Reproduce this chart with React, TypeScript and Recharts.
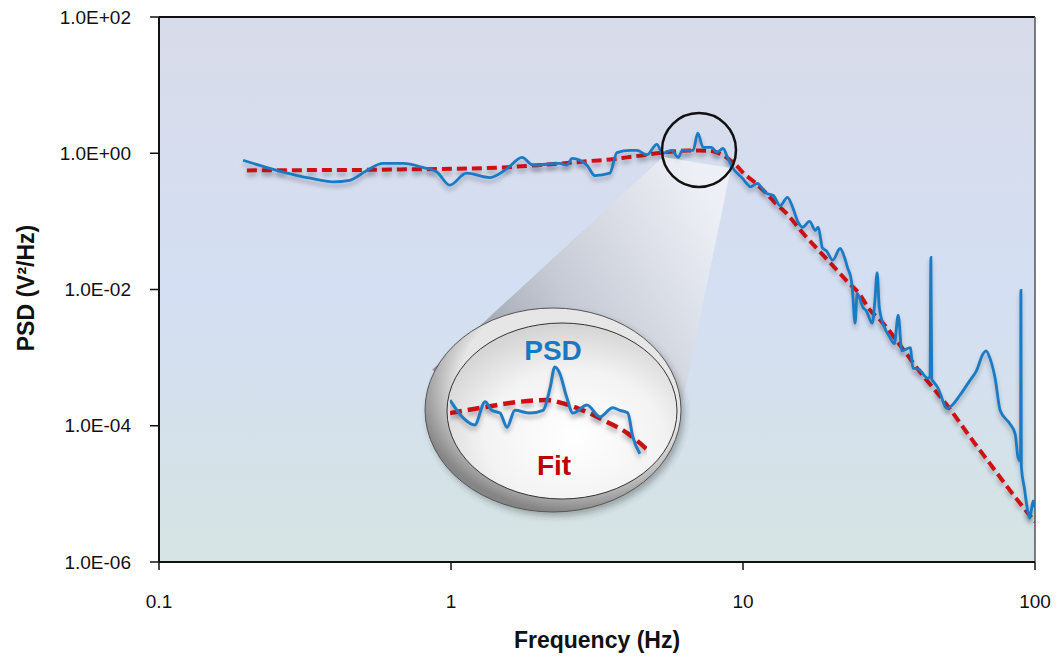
import * as React from 'react';
import { LineChart, Line, XAxis, YAxis, CartesianGrid, ReferenceLine } from 'recharts';

// measured PSD (Hz, V^2/Hz)
const psdFreq = [
  0.194, 0.266, 0.33, 0.394, 0.45, 0.515, 0.585, 0.686, 0.8, 0.895, 0.99, 1.13, 1.36, 1.56, 1.75, 1.91,
  2.36, 2.49, 2.6, 2.92, 3.11, 3.5, 3.7, 4.1, 4.33, 4.69, 5.07, 5.3, 5.7, 6.0, 6.2, 6.75, 7.0, 7.3, 7.8,
  8.15, 8.55, 8.85, 9.2, 10.0, 10.3, 10.6, 11.2, 11.6, 12.0, 12.7, 13.4, 14.2, 14.8, 15.4, 16.0, 16.9,
  17.7, 18.1, 18.7, 19.3, 20.3, 21.5, 22.3, 22.8, 23.5, 23.7, 24.2, 24.6, 25.8, 26.4, 27.7, 28.3, 28.8,
  29.3, 30.5, 31.8, 33, 34, 35, 37.4, 38.2, 40, 41.3, 42.8, 43.7, 44.0, 44.3, 44.6, 46.5, 50, 52, 55.3,
  59.8, 63, 66.4, 68, 70, 73, 76, 82, 85.5, 87.5, 89.2, 89.5, 89.8, 92, 94, 96, 98.5, 100,
];
const psdValue = [
  0.79, 0.53, 0.43, 0.38, 0.4, 0.56, 0.71, 0.71, 0.62, 0.53, 0.34, 0.51, 0.44, 0.6, 0.87, 0.67,
  0.71, 0.67, 0.84, 0.67, 0.47, 0.51, 1.02, 1.1, 1.1, 0.95, 1.35, 1.0, 1.1, 0.87, 1.1, 1.1, 1.97, 1.22, 1.22,
  1.03, 1.18, 0.87, 0.62, 0.42, 0.36, 0.32, 0.36, 0.31, 0.26, 0.24, 0.17, 0.225, 0.16, 0.1, 0.082, 0.1,
  0.074, 0.082, 0.041, 0.037, 0.027, 0.04, 0.029, 0.021, 0.0136, 0.0097, 0.0032, 0.0088, 0.0054, 0.0049, 0.0032, 0.0069, 0.0177,
  0.0054, 0.0028, 0.002, 0.0016, 0.0042, 0.00126, 0.0014, 0.0007, 0.00068, 0.00058, 0.0005, 0.00052, 0.0295, 0.00048, 0.00046, 0.00036, 0.00018, 0.0002, 0.00028,
  0.00046, 0.00064, 0.00114, 0.00126, 0.001, 0.0005, 0.000167, 0.000107, 7.6e-5, 3.4e-5, 3e-5, 0.0097, 2.5e-5, 1.2e-5, 6.3e-6, 4.4e-6, 7.9e-6, 6.3e-6,
];

// fitted model
const fitFreq = [0.2, 0.3, 0.5, 0.7, 1, 1.5, 2, 2.5, 3, 3.5, 4, 4.5, 5, 5.5, 6, 6.5, 7, 7.5, 8, 8.5, 9, 9.5, 10, 11, 12, 13, 14, 16, 18, 20, 23, 25, 27, 30, 35, 40, 45, 50, 60, 70, 80, 90, 100];
const fitValue = [0.56, 0.565, 0.57, 0.58, 0.59, 0.62, 0.67, 0.72, 0.77, 0.81, 0.87, 0.93, 0.99, 1.04, 1.08, 1.1, 1.1, 1.09, 1.05, 0.95, 0.8, 0.66, 0.52, 0.37, 0.26, 0.18, 0.135, 0.068, 0.039, 0.024, 0.0125, 0.0087, 0.0052, 0.0033, 0.0014, 0.00065, 0.00035, 0.0002, 6.8e-5, 2.8e-5, 1.3e-5, 6.8e-6, 3.9e-6];

// magnified view around the peak
const zoomPsdFreq = [5.4, 5.6, 5.78, 5.95, 6.06, 6.2, 6.32, 6.46, 6.73, 6.98, 7.12, 7.21, 7.31, 7.45, 7.58, 7.88, 8.17, 8.46, 8.63, 8.82, 8.94, 9.12];
const zoomPsdValue = [1.1, 0.9, 0.83, 1.08, 0.98, 0.95, 0.81, 0.98, 0.95, 0.98, 1.27, 1.6, 1.49, 1.14, 0.95, 1.04, 0.91, 1.01, 0.98, 0.95, 0.73, 0.6];
const zoomFitFreq = [5.4, 5.98, 6.55, 7.06, 7.38, 7.88, 8.33, 8.8, 9.3];
const zoomFitValue = [0.95, 1.02, 1.08, 1.1, 1.06, 0.96, 0.86, 0.76, 0.63];

const xTicks = [0.1, 1, 10, 100];
const yTicks = [1e-6, 1e-4, 1e-2, 1, 100];

const psdData = psdFreq.map((f, i) => ({ f, v: psdValue[i] }));
const fitData = fitFreq.map((f, i) => ({ f, v: fitValue[i] }));
const zoomPsdData = zoomPsdFreq.map((f, i) => ({ f, v: zoomPsdValue[i] }));
const zoomFitData = zoomFitFreq.map((f, i) => ({ f, v: zoomFitValue[i] }));

const sci = (v: number) => {
  const [m, e] = v.toExponential(1).split('e');
  const n = Number(e);
  return `${m}E${n < 0 ? '-' : '+'}${String(Math.abs(n)).padStart(2, '0')}`;
};

const FONT = '"Liberation Sans", Arial, sans-serif';
const tickStyle = { fontSize: 19, fill: '#111', fontFamily: FONT };

const App = () => (
  <div style={{ position: 'absolute', left: 0, top: 0, width: 1057, height: 659, background: '#fff', fontFamily: FONT }}>
    <style>{`.mainchart .recharts-line-curve { filter: drop-shadow(0px 4px 2px rgba(40,40,60,0.3)); }
.insetchart .recharts-line-curve { filter: drop-shadow(0px 4px 2px rgba(40,40,60,0.3)); }`}</style>
    <div className="mainchart" style={{ position: 'absolute', left: 0, top: 0 }}>
      <LineChart width={1057} height={659} margin={{ top: 17, right: 22, left: 99, bottom: 67 }}>
        <defs>
          <linearGradient id="plotBg" x1="0" y1="0" x2="0" y2="1">
            <stop offset="0%" stopColor="#d8dbe9" />
            <stop offset="50%" stopColor="#d4dff3" />
            <stop offset="100%" stopColor="#d5e4e3" />
          </linearGradient>
        </defs>
        <CartesianGrid horizontal={false} vertical={false} fill="url(#plotBg)" />
        <XAxis
          dataKey="f"
          type="number"
          scale="log"
          domain={[0.1, 100]}
          allowDataOverflow
          ticks={xTicks}
          tickFormatter={(v: number) => String(v)}
          height={30}
          tickSize={8}
          tickMargin={25}
          tick={tickStyle}
          axisLine={{ stroke: '#111', strokeWidth: 2 }}
          tickLine={{ stroke: '#111', strokeWidth: 1.5 }}
        />
        <YAxis
          dataKey="v"
          type="number"
          scale="log"
          domain={[1e-6, 100]}
          allowDataOverflow
          ticks={yTicks}
          tickFormatter={sci}
          width={60}
          tickSize={9}
          tickMargin={19}
          tick={tickStyle}
          axisLine={{ stroke: '#111', strokeWidth: 2 }}
          tickLine={{ stroke: '#111', strokeWidth: 1.5 }}
        />
        <ReferenceLine y={100} stroke="#111" strokeWidth={2} />
        <ReferenceLine x={100} stroke="#555" strokeWidth={1.5} />
        <Line data={fitData} dataKey="v" type="monotone" stroke="#d31010" strokeWidth={4} strokeDasharray="10 5" dot={false} isAnimationActive={false} />
        <Line data={psdData} dataKey="v" type="monotone" stroke="#1a7bc5" strokeWidth={2.8} dot={false} isAnimationActive={false} />
      </LineChart>
    </div>

    <svg width={1057} height={659} style={{ position: 'absolute', left: 0, top: 0, pointerEvents: 'none' }}>
      <defs>
        <linearGradient id="cone" gradientUnits="userSpaceOnUse" x1="440" y1="360" x2="710" y2="200">
          <stop offset="0%" stopColor="#868a93" stopOpacity={0.92} />
          <stop offset="45%" stopColor="#c3c6ce" stopOpacity={0.82} />
          <stop offset="100%" stopColor="#f4f5f8" stopOpacity={0.75} />
        </linearGradient>
        <radialGradient id="ring" cx="0.58" cy="0.38" r="0.62">
          <stop offset="72%" stopColor="#e6e6e6" />
          <stop offset="100%" stopColor="#858585" />
        </radialGradient>
        <radialGradient id="lens" cx="0.55" cy="0.65" r="0.7">
          <stop offset="0%" stopColor="#ffffff" />
          <stop offset="55%" stopColor="#f3f3f3" />
          <stop offset="100%" stopColor="#cdcdcd" />
        </radialGradient>
        <filter id="ringShadow" x="-20%" y="-20%" width="140%" height="140%">
          <feDropShadow dx="3" dy="4" stdDeviation="3" floodColor="#333" floodOpacity="0.35" />
        </filter>
      </defs>
      <polygon points="663,157 731,168 683,400 553,410 432,370" fill="url(#cone)" />
      <ellipse cx={553} cy={410} rx={128} ry={102} fill="url(#ring)" stroke="#555" strokeWidth={1} filter="url(#ringShadow)" />
      <ellipse cx={562} cy={411} rx={115} ry={88} fill="url(#lens)" stroke="#333" strokeWidth={1} />
      <circle cx={699} cy={150} r={37} fill="none" stroke="#111" strokeWidth={2.5} />
    </svg>

    <div className="insetchart" style={{ position: 'absolute', left: 450, top: 340 }}>
      <LineChart width={197} height={140} margin={{ top: 0, right: 0, left: 0, bottom: 0 }}>
        <XAxis dataKey="f" type="number" scale="log" domain={[5.4, 9.3]} allowDataOverflow hide />
        <YAxis dataKey="v" type="number" scale="log" domain={[0.446, 2.17]} allowDataOverflow hide />
        <Line data={zoomFitData} dataKey="v" type="monotone" stroke="#cc1111" strokeWidth={4.5} strokeDasharray="12 6" dot={false} isAnimationActive={false} />
        <Line data={zoomPsdData} dataKey="v" type="monotone" stroke="#1f7cc4" strokeWidth={3} dot={false} isAnimationActive={false} />
      </LineChart>
    </div>

    <div style={{ position: 'absolute', left: 553, top: 351, transform: 'translate(-50%, -50%)', color: '#1a78c2', fontWeight: 'bold', fontSize: 28, lineHeight: 1 }}>PSD</div>
    <div style={{ position: 'absolute', left: 554, top: 466, transform: 'translate(-50%, -50%)', color: '#c00000', fontWeight: 'bold', fontSize: 28, lineHeight: 1 }}>Fit</div>

    <div style={{ position: 'absolute', left: 597, top: 640, transform: 'translate(-50%, -50%)', fontWeight: 'bold', fontSize: 23, whiteSpace: 'nowrap', color: '#111' }}>Frequency (Hz)</div>
    <div style={{ position: 'absolute', left: 26, top: 288, transform: 'translate(-50%, -50%) rotate(-90deg)', fontWeight: 'bold', fontSize: 23, whiteSpace: 'nowrap', color: '#111' }}>PSD (V²/Hz)</div>
  </div>
);

export default App;
